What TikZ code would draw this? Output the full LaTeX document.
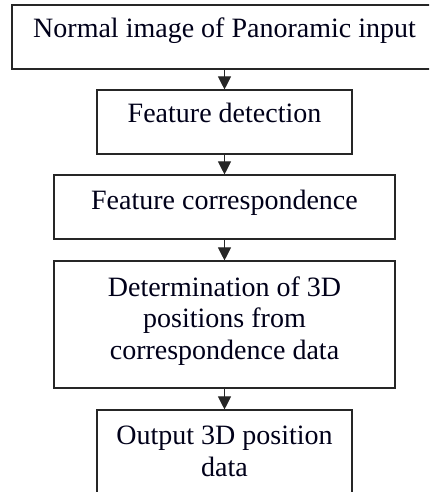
\documentclass[tikz,border=0pt]{standalone}
\usepackage{fontspec}
\setmainfont{Liberation Serif}
\usetikzlibrary{arrows.meta}
\begin{document}
\begin{tikzpicture}[x=1pt,y=1pt,
  box/.style={draw=black!85, line width=1.1pt, inner sep=0pt},
  lbl/.style={font=\fontsize{28}{31.5}\selectfont, align=center, inner sep=0pt, anchor=base, text=black!90!blue},
  arr/.style={-{Triangle[width=13pt,length=13pt]}, line width=1pt, draw=black!85}]
\useasboundingbox (0,0) rectangle (429,-492);
\clip (0,0) rectangle (429,-492);
% boxes
\node[box, minimum width=422pt, minimum height=64pt] (b1) at (223,-37) {};
\node[box, minimum width=255pt, minimum height=64pt] (b2) at (224.5,-122) {};
\node[box, minimum width=341pt, minimum height=64pt] (b3) at (224.5,-207) {};
\node[box, minimum width=341pt, minimum height=127pt] (b4) at (224.5,-324.5) {};
\node[box, minimum width=255pt, minimum height=100pt] (b5) at (224.5,-460) {};
% texts (base = baseline of last line)
\node[lbl] (t1) at (224.5,-38) {Normal image of Panoramic input};
\node[lbl] (t2) at (224.5,-123) {Feature detection};
\node[lbl] (t3) at (224.5,-209) {Feature correspondence};
\node[lbl] (t4) at (224.5,-359) {Determination of 3D\\positions from\\correspondence data};
\node[lbl] (t5) at (224.5,-476) {Output 3D position\\data};
% arrows
\draw[arr] (b1.south -| b2.north) -- (b2.north);
\draw[arr] (b2.south) -- (b3.north);
\draw[arr] (b3.south) -- (b4.north);
\draw[arr] (b4.south) -- (b5.north);
\end{tikzpicture}
\end{document}
